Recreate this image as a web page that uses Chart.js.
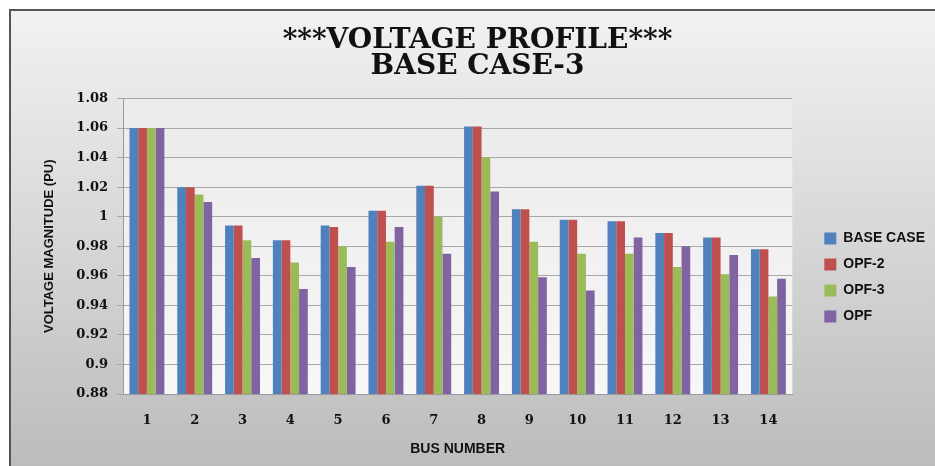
<!DOCTYPE html>
<html>
<head>
<meta charset="utf-8">
<script src="https://cdn.jsdelivr.net/npm/chart.js@4"></script>
<style>
  html, body { margin: 0; padding: 0; background: #fff; }
  #wrap { position: absolute; left: 0; top: 0; width: 935px; height: 466px; }
</style>
</head>
<body>
<div id="wrap"><canvas id="chart"></canvas></div>
<script>
const busNumbers = ['1', '2', '3', '4', '5', '6', '7', '8', '9', '10', '11', '12', '13', '14'];
const baseCase = [1.060, 1.020, 0.994, 0.984, 0.994, 1.004, 1.021, 1.061, 1.005, 0.998, 0.997, 0.989, 0.986, 0.978];
const opf2     = [1.060, 1.020, 0.994, 0.984, 0.993, 1.004, 1.021, 1.061, 1.005, 0.998, 0.997, 0.989, 0.986, 0.978];
const opf3     = [1.060, 1.015, 0.984, 0.969, 0.980, 0.983, 1.000, 1.040, 0.983, 0.975, 0.975, 0.966, 0.961, 0.946];
const opf      = [1.060, 1.010, 0.972, 0.951, 0.966, 0.993, 0.975, 1.017, 0.959, 0.950, 0.986, 0.980, 0.974, 0.958];

// frame + gradient behind everything, lighter fill for the plot area
const backdrop = {
  id: 'backdrop',
  beforeDraw: chart => {
    const { ctx, chartArea: a } = chart;
    ctx.save();
    ctx.fillStyle = '#fff';
    ctx.fillRect(0, 0, chart.width, chart.height);
    const g = ctx.createLinearGradient(0, 10, 0, chart.height);
    g.addColorStop(0, '#f2f2f2');
    g.addColorStop(1, '#bcbcbc');
    ctx.fillStyle = g;
    ctx.fillRect(10, 10, chart.width - 10, chart.height - 10);
    ctx.strokeStyle = '#555';
    ctx.lineWidth = 2;
    ctx.strokeRect(10, 10, chart.width + 10, chart.height + 10);
    const p = ctx.createLinearGradient(0, a.top, 0, a.bottom);
    p.addColorStop(0, '#ebebeb');
    p.addColorStop(1, '#f7f7f7');
    ctx.fillStyle = p;
    ctx.fillRect(a.left, a.top, a.right - a.left, a.bottom - a.top);
    ctx.restore();
  }
};

const tickFont = { family: "'DejaVu Serif', serif", size: 13, weight: 'bold' };
const sansBold = size => ({ family: "'Liberation Sans', Arial, sans-serif", size: size, weight: 'bold' });

new Chart(document.getElementById('chart'), {
  type: 'bar',
  data: {
    labels: busNumbers,
    datasets: [
      { label: 'BASE CASE', data: baseCase, backgroundColor: '#4f81bd' },
      { label: 'OPF-2', data: opf2, backgroundColor: '#c0504d' },
      { label: 'OPF-3', data: opf3, backgroundColor: '#9bbb59' },
      { label: 'OPF', data: opf, backgroundColor: '#8064a2' }
    ]
  },
  options: {
    responsive: true,
    maintainAspectRatio: false,
    animation: false,
    datasets: { bar: { categoryPercentage: 0.73, barPercentage: 1.0 } },
    layout: { padding: { left: 20, right: 0, top: 0, bottom: 0 } },
    plugins: {
      title: {
        display: true,
        text: ['***VOLTAGE PROFILE***', 'BASE CASE-3'],
        color: '#111',
        font: { family: "'DejaVu Serif', serif", size: 28, weight: 'bold', lineHeight: 0.92 },
        padding: { top: 28, bottom: 19 }
      },
      legend: {
        position: 'right',
        title: { display: true, text: '', font: { size: 1 }, padding: { top: 88, bottom: 0 } },
        labels: {
          color: '#111',
          font: sansBold(14),
          boxWidth: 12,
          boxHeight: 12,
          padding: 12
        }
      },
      tooltip: { enabled: false }
    },
    scales: {
      x: {
        grid: { display: false, drawTicks: false },
        border: { color: '#9a9a9a' },
        ticks: { color: '#111', font: tickFont, padding: 19 },
        title: { display: true, text: 'BUS NUMBER', color: '#111', font: sansBold(14), padding: { top: 0, bottom: 8 } },
        afterFit: s => { s.height = 72; }
      },
      y: {
        min: 0.88,
        max: 1.08,
        ticks: {
          stepSize: 0.02,
          color: '#111',
          font: tickFont,
          padding: 9,
          callback: v => String(+v.toFixed(2))
        },
        grid: { color: '#a8a8a8', tickLength: 6 },
        border: { color: '#9a9a9a' },
        title: { display: true, text: 'VOLTAGE MAGNITUDE (PU)', color: '#111', font: sansBold(13), padding: { top: 22, bottom: 0 } },
        afterFit: s => { s.width = 103; }
      },
      // empty right-hand spacer between plot and legend
      gap: {
        type: 'linear',
        position: 'right',
        display: true,
        grid: { display: false },
        border: { display: false },
        ticks: { display: false },
        afterFit: s => { s.width = 20; }
      }
    }
  },
  plugins: [backdrop]
});
</script>
</body>
</html>
